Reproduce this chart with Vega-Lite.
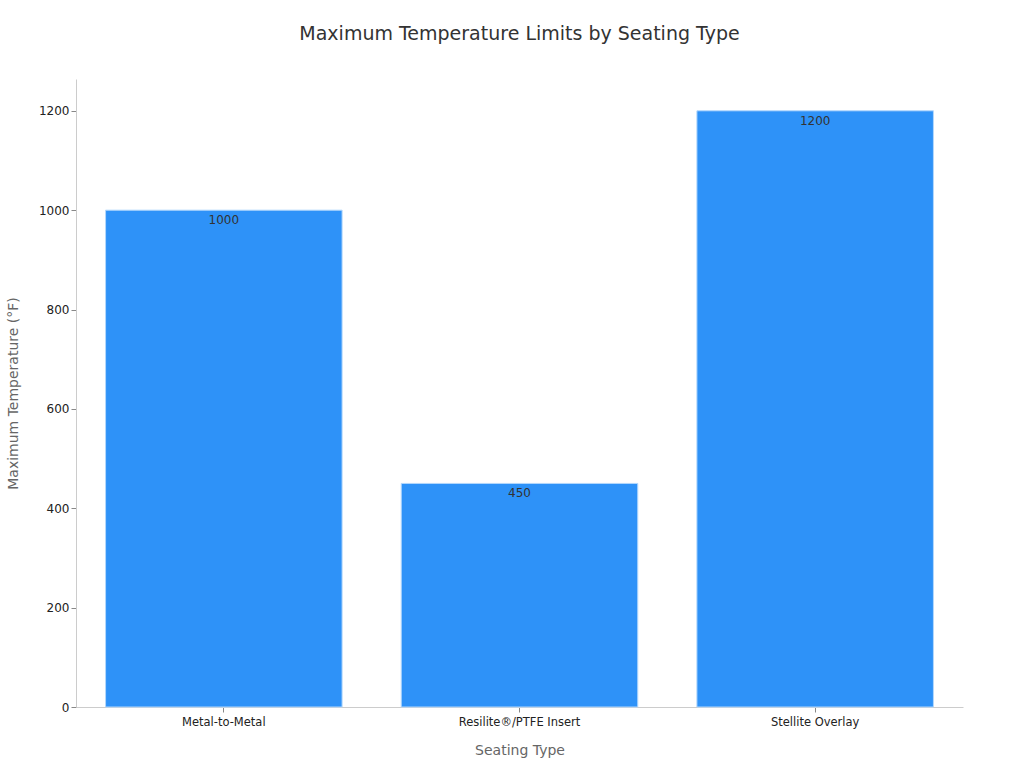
{
  "$schema": "https://vega.github.io/schema/vega-lite/v6.json",
  "autosize": {"type": "fit", "contains": "padding"},
  "width": 1024,
  "height": 768,
  "padding": {"left": 6, "top": 25, "right": 61, "bottom": 10},
  "background": "white",
  "config": {
    "font": "DejaVu Sans",
    "view": {"stroke": null},
    "axis": {"labelColor": "#222", "titleColor": "#666", "titleFontWeight": "normal", "labelFontSize": 12, "titleFontSize": 14, "domainColor": "#ccc", "tickColor": "#888", "grid": false}
  },
  "title": {"text": "Maximum Temperature Limits by Seating Type", "fontSize": 19, "fontWeight": "normal", "color": "#333", "offset": 35},
  "data": {"values": [
    {"type": "Metal-to-Metal", "temp": 1000},
    {"type": "Resilite®/PTFE Insert", "temp": 450},
    {"type": "Stellite Overlay", "temp": 1200}
  ]},
  "encoding": {
    "x": {"field": "type", "type": "nominal", "sort": null, "title": "Seating Type",
      "scale": {"paddingInner": 0.2, "paddingOuter": 0.1},
      "axis": {"labelAngle": 0, "labelFontSize": 11.5, "labelPadding": 4, "titlePadding": 16}},
    "y": {"field": "temp", "type": "quantitative", "title": "Maximum Temperature (°F)",
      "scale": {"domain": [0, 1264], "nice": false},
      "axis": {"values": [0, 200, 400, 600, 800, 1000, 1200], "format": "d", "labelFontSize": 12, "titlePadding": 18}}
  },
  "layer": [
    {"mark": {"type": "bar", "color": "#2e92f8", "stroke": "#b4d8fc", "strokeWidth": 1}},
    {"mark": {"type": "text", "baseline": "top", "dy": 5, "fontSize": 12, "color": "#333"},
     "encoding": {"text": {"field": "temp", "type": "quantitative"}}}
  ]
}
